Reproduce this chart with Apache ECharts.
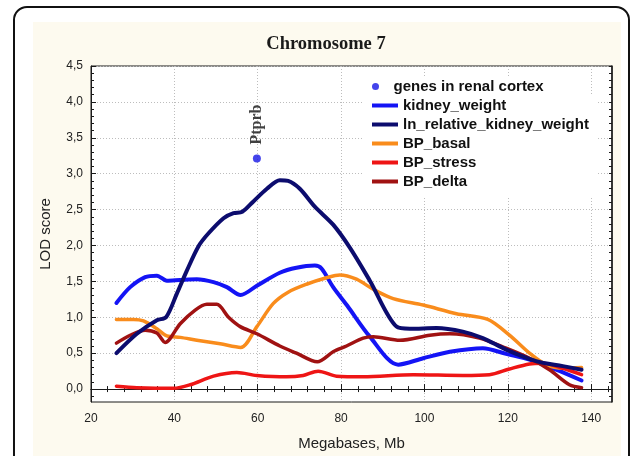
<!DOCTYPE html>
<html><head><meta charset="utf-8">
<script src="https://cdn.jsdelivr.net/npm/echarts@6/dist/echarts.min.js"></script>
<style>html,body{margin:0;padding:0;background:#fff}#c{width:635px;height:456px}</style>
</head><body><div id="c"></div>
<script>
const chartTitle = 'Chromosome 7';
const xName = 'Megabases, Mb';
const yName = 'LOD score';
const xTickValues = [20, 40, 60, 80, 100, 120, 140];
const yTickValues = [0, 0.5, 1, 1.5, 2, 2.5, 3, 3.5, 4, 4.5];

const geneNames = ['Ptprb'];
const geneX = [59.8];
const geneY = [3.21];

const kidneyX = [26.1, 29.4, 33.0, 35.8, 38.2, 41.4, 45.4, 49.4, 52.6, 55.9, 59.8, 65.3, 69.3, 73.7, 75.3, 78.1, 81.5, 86.9, 93.7, 99.7, 106.1, 114.0, 119.6, 125.2, 131.6, 137.7];
const kidneyY = [1.20, 1.42, 1.56, 1.58, 1.51, 1.52, 1.53, 1.49, 1.42, 1.31, 1.44, 1.62, 1.69, 1.72, 1.68, 1.42, 1.16, 0.73, 0.34, 0.43, 0.52, 0.57, 0.49, 0.41, 0.27, 0.12];

const lnRelX = [26.1, 31.0, 35.8, 38.0, 40.6, 43.0, 45.8, 48.2, 51.8, 54.2, 56.3, 58.9, 62.2, 65.3, 67.3, 70.1, 73.7, 78.1, 82.1, 86.9, 93.3, 96.5, 102.9, 109.2, 114.0, 119.6, 126.8, 133.2, 137.7];
const lnRelY = [0.50, 0.77, 0.96, 1.00, 1.33, 1.65, 1.99, 2.17, 2.38, 2.45, 2.47, 2.61, 2.79, 2.91, 2.90, 2.79, 2.54, 2.29, 1.97, 1.51, 0.87, 0.84, 0.85, 0.80, 0.71, 0.55, 0.39, 0.32, 0.27];

const basalX = [26.1, 30.2, 32.6, 35.8, 38.2, 41.4, 45.4, 51.0, 55.9, 59.8, 63.7, 67.3, 71.7, 76.5, 79.7, 83.7, 87.7, 92.5, 99.7, 107.7, 115.2, 120.4, 125.2, 129.2, 133.2, 137.7];
const basalY = [0.97, 0.97, 0.95, 0.84, 0.74, 0.72, 0.68, 0.63, 0.58, 0.87, 1.19, 1.35, 1.46, 1.55, 1.59, 1.53, 1.39, 1.26, 1.17, 1.05, 0.97, 0.75, 0.50, 0.34, 0.29, 0.30];

const stressX = [26.1, 31.0, 39.8, 43.8, 49.4, 55.0, 59.8, 66.9, 70.9, 74.5, 78.9, 85.3, 97.3, 109.2, 115.6, 120.4, 125.2, 128.4, 133.2, 137.7];
const stressY = [0.04, 0.02, 0.01, 0.06, 0.18, 0.23, 0.19, 0.17, 0.19, 0.25, 0.18, 0.17, 0.20, 0.19, 0.20, 0.28, 0.35, 0.36, 0.29, 0.20];

const deltaX = [26.1, 29.4, 33.0, 35.8, 37.8, 41.4, 45.0, 47.8, 50.2, 53.0, 55.8, 59.8, 65.3, 69.3, 74.3, 78.1, 81.3, 85.3, 87.7, 94.1, 101.3, 106.1, 113.2, 119.6, 125.2, 130.0, 134.8, 137.7];
const deltaY = [0.64, 0.75, 0.82, 0.78, 0.65, 0.91, 1.10, 1.18, 1.18, 1.00, 0.87, 0.77, 0.60, 0.50, 0.38, 0.52, 0.60, 0.71, 0.73, 0.68, 0.75, 0.77, 0.71, 0.57, 0.43, 0.27, 0.06, 0.02];

const zip = (xs, ys) => xs.map((x, i) => [x, ys[i]]);

const X_MIN = 20, X_MAX = 145, Y_MIN = -0.18, Y_MAX = 4.5;
const minorX = []; for (let v = 20; v <= 144; v += 4) minorX.push(v);
const minorY = []; for (let i = -1; i <= 45; i++) minorY.push(+(i / 10).toFixed(1));

const sans = 'Liberation Sans';
const ink = '#1a1a1a';
const grid = { type: [1, 2], color: '#bdbdbd', width: 1 };
const legendText = { fontFamily: sans, fontWeight: 'bold', fontSize: 15, color: '#111' };

const lineDefs = [
  { name: 'kidney_weight', xs: kidneyX, ys: kidneyY, color: '#1414f5', w: 4 },
  { name: 'BP_basal', xs: basalX, ys: basalY, color: '#f98c1c', w: 3.5 },
  { name: 'BP_stress', xs: stressX, ys: stressY, color: '#ee1515', w: 3.5 },
  { name: 'BP_delta', xs: deltaX, ys: deltaY, color: '#a01212', w: 3.5 },
  { name: 'ln_relative_kidney_weight', xs: lnRelX, ys: lnRelY, color: '#0c0c6e', w: 4 }
];
const legendOrder = ['kidney_weight', 'ln_relative_kidney_weight', 'BP_basal', 'BP_stress', 'BP_delta'];

const chart = echarts.init(document.getElementById('c'), null, { renderer: 'canvas' });
const option = {
  animation: false,
  backgroundColor: '#ffffff',
  graphic: [
    { type: 'rect', z: -20, shape: { x: 14, y: 7, width: 615, height: 470, r: 13 }, style: { fill: '#ffffff', stroke: '#111', lineWidth: 2 } },
    { type: 'rect', z: -19, shape: { x: 33, y: 22, width: 588, height: 440 }, style: { fill: '#fdfaef' } }
  ],
  title: {
    text: chartTitle, left: 326, top: 35, textAlign: 'center', padding: 0,
    textStyle: { fontFamily: 'Liberation Serif', fontSize: 18.5, fontWeight: 'bold', color: '#1a1a1a' }
  },
  grid: { left: 91, right: 23, top: 66, bottom: 50, show: true, backgroundColor: '#ffffff', borderColor: ink, borderWidth: 1, containLabel: false },
  legend: [
    {
      data: [{ name: 'genes in renal cortex', icon: 'circle' }],
      left: 363, top: 77, padding: [2, 8, 2, 9], backgroundColor: '#ffffff',
      itemWidth: 26, itemHeight: 7, selectedMode: false, textStyle: legendText
    },
    {
      data: legendOrder.map(n => ({ name: n, icon: 'path://M0,0H26V4H0Z' })),
      orient: 'vertical', left: 363, top: 96, padding: [2, 8, 8, 9], backgroundColor: '#ffffff',
      itemGap: 4, itemWidth: 26, itemHeight: 4, selectedMode: false, textStyle: legendText
    }
  ],
  xAxis: [
    {
      type: 'value', min: X_MIN, max: X_MAX, position: 'bottom',
      name: xName, nameLocation: 'middle', nameGap: 34,
      nameTextStyle: { fontFamily: sans, fontSize: 15, color: '#222' },
      axisLine: { show: true, lineStyle: { color: ink, width: 1 } },
      axisTick: { show: true, inside: true, length: 5, customValues: xTickValues, lineStyle: { color: ink } },
      axisLabel: { customValues: xTickValues, margin: 11, fontFamily: sans, fontSize: 12, color: '#222' },
      splitLine: { show: true, lineStyle: grid }
    },
    {
      type: 'value', min: X_MIN, max: X_MAX, position: 'bottom',
      axisLine: { show: false },
      axisTick: { show: true, inside: true, length: 3, customValues: minorX, lineStyle: { color: ink } },
      axisLabel: { show: false }, splitLine: { show: false }
    },
    {
      type: 'value', min: X_MIN, max: X_MAX, position: 'top',
      axisLine: { show: true, lineStyle: { color: ink, width: 1 } },
      axisTick: { show: true, inside: true, length: 3, customValues: minorX, lineStyle: { color: ink } },
      axisLabel: { show: false }, splitLine: { show: false }
    }
  ],
  yAxis: [
    {
      type: 'value', min: Y_MIN, max: Y_MAX, position: 'left',
      name: yName, nameLocation: 'middle', nameGap: 38,
      nameTextStyle: { fontFamily: sans, fontSize: 15, color: '#222' },
      axisLine: { show: true, lineStyle: { color: ink, width: 1 } },
      axisTick: { show: true, inside: true, length: 5, customValues: yTickValues, lineStyle: { color: ink } },
      axisLabel: { customValues: yTickValues, margin: 8, fontFamily: sans, fontSize: 12, color: '#222',
        formatter: v => Number(v).toFixed(1).replace('.', ',') },
      splitLine: { show: true, lineStyle: grid }
    },
    {
      type: 'value', min: Y_MIN, max: Y_MAX, position: 'left',
      axisLine: { show: false },
      axisTick: { show: true, inside: true, length: 3, customValues: minorY, lineStyle: { color: ink } },
      axisLabel: { show: false }, splitLine: { show: false }
    },
    {
      type: 'value', min: Y_MIN, max: Y_MAX, position: 'right',
      axisLine: { show: true, lineStyle: { color: ink, width: 1.5 } },
      axisTick: { show: true, inside: true, length: 3, customValues: minorY, lineStyle: { color: ink } },
      axisLabel: { show: false }, splitLine: { show: false }
    }
  ],
  series: [
    ...lineDefs.map(d => ({
      type: 'line', name: d.name, data: zip(d.xs, d.ys), xAxisIndex: 0, yAxisIndex: 0,
      smooth: 0.3, symbol: 'none', color: d.color,
      lineStyle: { color: d.color, width: d.w, cap: 'round', join: 'round' }
    })),
    {
      type: 'scatter', name: 'genes in renal cortex', data: zip(geneX, geneY), xAxisIndex: 0, yAxisIndex: 0,
      symbol: 'circle', symbolSize: 8, color: '#1515e6', z: 5,
      label: {
        show: true, formatter: p => geneNames[p.dataIndex], position: 'top', distance: 10,
        rotate: 90, align: 'left', verticalAlign: 'middle',
        fontFamily: 'Liberation Serif', fontWeight: 'bold', fontSize: 16, color: '#111'
      }
    }
  ]
};
chart.setOption(option);
</script>
</body></html>
